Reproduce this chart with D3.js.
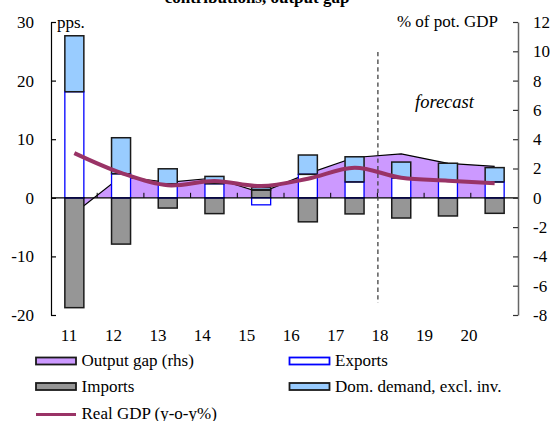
<!DOCTYPE html>
<html>
<head>
<meta charset="utf-8">
<script src="https://cdn.jsdelivr.net/npm/d3@7"></script>
<style>
  html, body { margin: 0; padding: 0; background: #fff; }
  svg { display: block; }
  svg text { font-family: "Liberation Serif", "Times New Roman", serif; }
</style>
</head>
<body>
<svg id="chart" width="550" height="421"></svg>
<script>
// Years (20xx)
const years = ["11", "12", "13", "14", "15", "16", "17", "18", "19", "20"];

// Contributions to real GDP growth, pps. (left axis)
const exportsContrib = [18.1, 4.1, 2.4, 2.4, -1.2, 4.0, 2.7, 3.4, 2.9, 2.7];
const importsContrib = [-18.75, -7.9, -1.75, -2.7, 1.35, -4.1, -2.75, -3.45, -3.1, -2.65];
const domDemandContrib = [9.55, 6.15, 2.55, 1.25, 0.4, 3.3, 4.3, 2.7, 3.0, 2.45];

// Output gap, % of potential GDP (right axis)
const outputGap = [-1.05, 1.45, 1.05, 1.35, 0.35, 1.65, 2.75, 3.0, 2.35, 2.15];

// Real GDP growth, y-o-y %
const realGDP = [3.05, 1.7, 0.85, 1.15, 0.8, 1.3, 2.05, 1.37, 1.17, 1.0];

// Axis ticks
const leftTicks = [-20, -10, 0, 10, 20, 30];
const rightTicks = [-8, -6, -4, -2, 0, 2, 4, 6, 8, 10, 12];

const FS = 17;
const svg = d3.select("#chart");
const plot = { left: 51, right: 518, top: 22, bottom: 315 };

const x = d3.scaleBand().domain(years)
  .range([plot.left, plot.right]).paddingInner(0.593).paddingOuter(0.2965);
const xLabel = d3.scalePoint().domain(years).range([69, 469]);
const yL = d3.scaleLinear().domain([-20, 30]).range([plot.bottom, plot.top]);
const yR = d3.scaleLinear().domain([-8, 12]).range([plot.bottom, plot.top]);
const cx = d => x(d) + x.bandwidth() / 2;

// Title (second line)
svg.append("text").attr("x", 257).attr("y", 3)
  .attr("text-anchor", "middle").attr("font-weight", "bold").attr("font-size", FS)
  .text("contributions, output gap");

// Output gap area (rhs)
const gapPts = years.map((y, i) => ({ y, v: outputGap[i] }));
svg.append("path").datum(gapPts)
  .attr("fill", "#cc99ff")
  .attr("d", d3.area().x(d => cx(d.y)).y0(yR(0)).y1(d => yR(d.v)));
svg.append("path").datum(gapPts)
  .attr("fill", "none").attr("stroke", "#000").attr("stroke-width", 1.2)
  .attr("d", d3.line().x(d => cx(d.y)).y(d => yR(d.v)));

// Stacked contributions (diverging)
const rows = years.map((y, i) => ({
  year: y, exports: exportsContrib[i], imports: importsContrib[i], dom: domDemandContrib[i]
}));
const keys = ["exports", "imports", "dom"];
const stack = d3.stack().keys(keys).offset(d3.stackOffsetDiverging)(rows);
const styles = {
  exports: { fill: "#ffffff", stroke: "#0000ff" },
  imports: { fill: "#969696", stroke: "#1a1a1a" },
  dom: { fill: "#99ccff", stroke: "#1a1a1a" }
};
// exports drawn last so its blue frame stays visible at the sides
["imports", "dom", "exports"].forEach(k => {
  const layer = stack.find(s => s.key === k);
  svg.append("g").selectAll("rect").data(layer).join("rect")
    .attr("x", d => x(d.data.year))
    .attr("width", x.bandwidth())
    .attr("y", d => yL(Math.max(d[0], d[1])))
    .attr("height", d => Math.abs(yL(d[0]) - yL(d[1])))
    .attr("fill", styles[k].fill)
    .attr("stroke", styles[k].stroke)
    .attr("stroke-width", k === "exports" ? 1.3 : 1.5);
});
// black base edge of domestic demand over the exports frame
const domLayer = stack.find(s => s.key === "dom");
svg.append("g").selectAll("line").data(domLayer).join("line")
  .attr("x1", d => x(d.data.year)).attr("x2", d => x(d.data.year) + x.bandwidth())
  .attr("y1", d => yL(d[0])).attr("y2", d => yL(d[0]))
  .attr("stroke", "#1a1a1a").attr("stroke-width", 1.5);

// Zero line with category separators
svg.append("line").attr("x1", plot.left).attr("x2", plot.right)
  .attr("y1", yL(0)).attr("y2", yL(0)).attr("stroke", "#000").attr("stroke-width", 1.2);
svg.append("g").selectAll("line").data(years.slice(1)).join("line")
  .attr("x1", d => x(d) - x.step() * x.paddingInner() / 2 - 0.5)
  .attr("x2", d => x(d) - x.step() * x.paddingInner() / 2 - 0.5)
  .attr("y1", yL(0)).attr("y2", yL(0) - 5)
  .attr("stroke", "#000").attr("stroke-width", 1);

// Forecast marker
const fx = x("18") - x.step() * x.paddingInner() / 2;
svg.append("line").attr("x1", fx).attr("x2", fx).attr("y1", 52).attr("y2", 303)
  .attr("stroke", "#404040").attr("stroke-width", 1.3).attr("stroke-dasharray", "4.3,3.3");
svg.append("text").attr("x", 415).attr("y", 108)
  .attr("font-style", "italic").attr("font-size", 18.5).text("forecast");

// Real GDP line
svg.append("path").datum(realGDP)
  .attr("fill", "none").attr("stroke", "#993366").attr("stroke-width", 4)
  .attr("d", d3.line().curve(d3.curveCatmullRom.alpha(0.5))
    .x((d, i) => cx(years[i])).y(d => yR(d)));

// Left axis
const gL = svg.append("g").attr("transform", `translate(${plot.left},0)`)
  .call(d3.axisLeft(yL).tickValues(leftTicks).tickFormat(d => String(d))
    .tickSize(-5).tickSizeOuter(0).tickPadding(17));
gL.attr("font-family", null).attr("font-size", null);
gL.selectAll("text").attr("font-size", FS).attr("fill", "#000");
gL.select(".domain").attr("stroke", "#000").attr("stroke-width", 1.2);
gL.selectAll(".tick line").attr("stroke", "#000").attr("stroke-width", 1.2);

// Right axis
const gR = svg.append("g").attr("transform", `translate(${plot.right},0)`)
  .call(d3.axisRight(yR).tickValues(rightTicks).tickFormat(d => String(d))
    .tickSize(-5).tickSizeOuter(0).tickPadding(15));
gR.attr("font-family", null).attr("font-size", null);
gR.selectAll("text").attr("font-size", FS).attr("fill", "#000");
gR.select(".domain").attr("stroke", "#666").attr("stroke-width", 1.5);
gR.selectAll(".tick line").attr("stroke", "#333").attr("stroke-width", 1.2);

// Unit labels
svg.append("text").attr("x", 57).attr("y", 28).attr("font-size", FS).text("pps.");
svg.append("text").attr("x", 498).attr("y", 27).attr("font-size", FS)
  .attr("text-anchor", "end").text("% of pot. GDP");

// Category labels
svg.append("g").selectAll("text").data(years).join("text")
  .attr("x", d => xLabel(d)).attr("y", 341)
  .attr("text-anchor", "middle").attr("font-size", FS).text(d => d);

// Legend
const legend = [
  { label: "Output gap (rhs)", type: "rect", fill: "#cc99ff", stroke: "#1a1a1a", x: 36, y: 357.5 },
  { label: "Exports", type: "rect", fill: "#ffffff", stroke: "#0000ff", x: 289.5, y: 357.5 },
  { label: "Imports", type: "rect", fill: "#969696", stroke: "#1a1a1a", x: 36, y: 383 },
  { label: "Dom. demand, excl. inv.", type: "rect", fill: "#99ccff", stroke: "#1a1a1a", x: 289.5, y: 383 },
  { label: "Real GDP (y-o-y%)", type: "line", stroke: "#993366", x: 36, y: 414.5 }
];
legend.forEach(l => {
  const g = svg.append("g");
  if (l.type === "rect") {
    g.append("rect").attr("x", l.x).attr("y", l.y).attr("width", 40).attr("height", 7)
      .attr("fill", l.fill).attr("stroke", l.stroke).attr("stroke-width", 1.8);
    g.append("text").attr("x", l.x + 45.5).attr("y", l.y + 8.5).attr("font-size", FS).text(l.label);
  } else {
    g.append("line").attr("x1", l.x).attr("x2", l.x + 40).attr("y1", l.y).attr("y2", l.y)
      .attr("stroke", l.stroke).attr("stroke-width", 3);
    g.append("text").attr("x", l.x + 45.5).attr("y", l.y + 4).attr("font-size", FS).text(l.label);
  }
});
</script>
</body>
</html>
